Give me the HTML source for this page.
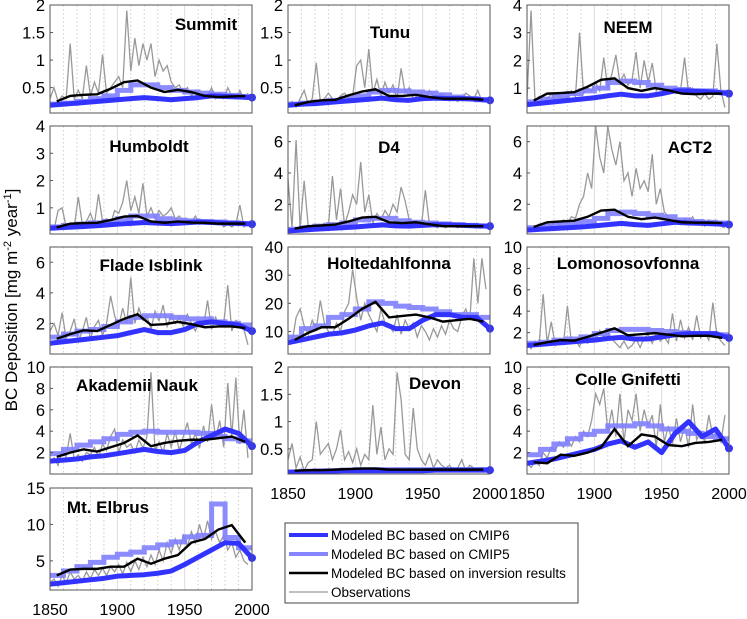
<!DOCTYPE html>
<html><head><meta charset="utf-8"><style>
body{margin:0;background:#fff;}
svg{display:block;font-family:"Liberation Sans",sans-serif;}
</style></head><body>
<svg id="chart" width="747" height="619" xmlns="http://www.w3.org/2000/svg">
<text x="0" y="0" transform="translate(17,300) rotate(-90)" text-anchor="middle" font-size="17">BC Deposition [mg m<tspan dy="-6" font-size="11">-2</tspan><tspan dy="6"> year</tspan><tspan dy="-6" font-size="11">-1</tspan><tspan dy="6">]</tspan></text>
<g>
<rect x="285" y="523" width="293" height="80" fill="#fff" stroke="#444" stroke-width="1"/>
<g><line x1="289" y1="535" x2="328" y2="535" stroke="#3333ff" stroke-width="4"/><text x="331" y="540" font-size="13.5">Modeled BC based on CMIP6</text></g>
<g><line x1="289" y1="554" x2="328" y2="554" stroke="#8585ff" stroke-width="4"/><text x="331" y="559" font-size="13.5">Modeled BC based on CMIP5</text></g>
<g><line x1="289" y1="573" x2="328" y2="573" stroke="#000" stroke-width="2.5"/><text x="331" y="578" font-size="13.5">Modeled BC based on inversion results</text></g>
<g><line x1="289" y1="592" x2="328" y2="592" stroke="#aaa" stroke-width="1.5"/><text x="331" y="597" font-size="13.5">Observations</text></g>
</g>
</svg>
<script>
const stationNames=["Summit","Tunu","NEEM","Humboldt","D4","ACT2","Flade Isblink","Holtedahlfonna","Lomonosovfonna","Akademii Nauk","Devon","Colle Gnifetti","Mt. Elbrus"];
const yMins=[0.04,0.04,0.1,0.04,0.1,0.1,0,2,0,0,0.04,0,1];
const yMaxs=[2,2,4,4,7,7,7,40,10,10,2,10,15];
const yTicks=[[0.5,1,1.5,2],[0.5,1,1.5,2],[1,2,3,4],[1,2,3,4],[2,4,6],[2,4,6],[2,4,6],[10,20,30,40],[2,4,6,8,10],[2,4,6,8,10],[0.5,1,1.5,2],[2,4,6,8,10],[5,10,15]];
const xTickLabels=[1850,1900,1950,2000];
const obsYears=Array.from({length:50},(_,i)=>1850+3*i);
const c6Years=[1850,1860,1870,1880,1890,1900,1910,1920,1930,1940,1950,1960,1970,1980,1990,2000];
const invYears=[1855,1865,1875,1885,1895,1905,1915,1925,1935,1945,1955,1965,1975,1985,1995];
const obsSummit=[0.3,0.5,0.25,0.35,0.3,1.3,0.3,0.45,0.3,0.9,0.35,0.6,0.4,1.1,0.4,0.5,0.6,0.7,0.5,1.9,0.8,1.4,0.9,1.3,1.0,1.3,0.7,1.0,0.8,0.9,0.6,0.5,0.55,0.4,0.5,0.35,0.45,0.3,0.4,0.35,0.5,0.3,0.4,0.3,0.5,0.35,0.3,0.45,0.3,0.4];
const obsTunu=[0.2,0.25,0.15,0.3,0.45,0.2,0.3,0.95,0.25,0.3,0.4,0.3,0.25,0.35,0.4,0.3,0.35,0.9,1.0,0.5,1.2,0.4,0.65,0.35,0.6,0.4,0.55,0.3,0.85,0.4,0.5,0.3,0.35,0.4,0.3,0.45,0.35,0.3,0.4,0.3,0.35,0.3,0.25,0.3,0.4,0.35,0.3,0.45,0.25,0.3];
const obsNEEM=[0.6,3.8,0.5,0.7,0.5,0.6,0.8,0.5,0.7,0.6,0.7,0.9,0.7,3.0,0.8,1.0,0.9,1.2,0.9,2.1,1.0,1.5,2.2,1.2,1.5,1.1,1.3,2.3,1.0,2.0,1.2,1.9,0.9,1.1,0.8,1.0,0.9,0.8,0.9,2.1,0.8,1.0,0.7,0.6,0.8,0.6,0.7,2.6,0.9,0.3];
const obsHumboldt=[0.3,0.2,0.9,1.0,0.3,0.4,0.3,1.4,0.4,0.5,0.8,0.4,1.5,0.5,0.6,0.4,0.9,0.8,1.2,2.0,0.9,1.4,0.8,1.9,0.7,1.0,0.6,0.9,0.7,0.8,1.0,0.6,0.7,0.5,0.6,0.5,0.7,0.4,0.5,0.4,0.5,0.4,0.5,0.3,0.4,0.3,0.4,1.1,0.3,0.4];
const obsD4=[3.6,0.5,6.1,0.5,3.5,0.6,0.5,0.7,0.6,0.8,0.6,3.8,1.0,3.0,0.7,1.5,2.6,2.0,4.7,1.5,2.6,0.8,1.4,1.0,1.6,1.2,2.0,1.5,3.1,2.2,1.0,0.7,0.9,0.6,2.9,0.7,0.6,0.5,0.8,0.5,0.7,0.6,0.5,0.7,0.6,0.5,0.6,0.7,0.5,0.6];
const obsACT2=[0.5,0.6,0.5,0.7,0.6,0.8,0.6,0.9,0.7,1.0,0.8,1.2,1.1,2.0,2.5,4.0,3.0,7.0,5.0,4.0,7.0,5.5,4.5,6.0,3.5,4.0,2.5,4.3,3.0,3.5,2.8,5.2,2.0,3.0,1.5,1.2,0.8,1.0,0.7,1.1,0.8,1.2,0.7,0.9,0.6,1.0,0.7,0.8,0.6,0.5];
const obsFlade=[1.5,2.0,1.2,2.7,1.0,1.5,2.3,0.8,1.5,2.4,1.0,1.8,2.2,1.2,2.0,3.8,2.5,1.8,3.0,2.0,5.0,2.0,3.0,2.2,2.5,1.6,2.8,2.2,3.2,1.8,2.5,2.0,2.4,1.8,2.6,2.0,1.5,2.2,1.8,3.5,1.6,2.4,1.8,2.0,4.5,1.5,2.2,2.0,1.6,0.6];
const obsHolte=[7,6,15,18,12,9,14,11,21,13,10,9,13,10,17,20,32,22,14,20,16,13,10,18,13,12,10,16,9,14,11,13,8,12,10,7,11,8,12,9,14,11,10,15,18,14,36,20,36,25];
const obsLomo=[1.0,0.5,1.2,0.9,5.6,1.0,3.0,0.8,1.2,0.9,4.5,1.0,1.3,0.7,1.5,1.0,1.8,1.2,2.2,1.6,2.0,1.4,1.0,0.6,1.2,0.5,0.8,1.4,0.6,1.5,1.8,1.0,2.0,1.2,1.6,1.0,3.8,1.2,3.2,1.5,2.5,1.3,3.6,1.5,2.0,1.3,4.8,1.8,1.2,0.8];
const obsAkad=[1.0,1.5,0.8,2.2,1.6,3.8,1.4,1.8,1.2,2.0,1.8,2.5,1.6,2.8,2.2,3.5,4.2,2.0,3.2,2.5,2.8,2.0,3.2,2.4,3.5,9.5,2.2,3.0,2.0,3.8,2.5,4.0,2.2,3.5,4.8,2.8,3.8,2.4,4.5,3.0,6.5,3.2,5.0,2.5,8.5,3.5,9.0,2.8,6.0,1.5];
const obsDevon=[0.3,0.6,0.15,0.35,0.1,0.25,0.3,1.0,0.4,0.5,0.6,0.3,0.5,0.85,0.3,0.45,0.25,0.5,0.2,0.4,0.3,1.3,0.4,0.9,0.3,0.5,0.4,1.9,1.4,0.4,0.3,1.25,0.5,0.3,0.2,0.4,0.15,0.3,0.2,0.15,0.2,0.1,0.15,0.3,0.1,0.2,0.15,0.1,0.15,0.1];
const obsColle=[1.0,0.6,1.2,0.8,2.0,1.5,2.5,2.2,3.0,2.5,3.2,2.6,3.5,3.0,4.0,3.5,5.0,7.5,6.5,8.0,4.0,6.0,3.5,7.5,3.0,6.0,5.0,7.5,4.0,6.0,4.5,5.5,2.5,6.5,3.0,4.5,2.8,5.2,3.0,4.5,2.5,6.5,3.2,4.0,3.0,5.5,3.5,4.0,3.0,5.5];
const obsElbrus=[2,2.5,1.5,3,2,3.5,2.5,3,2.2,3.5,2.5,3.8,3,4,3,4.2,3.5,4.5,3.2,4.8,3.5,5,3.8,5.5,4.2,5.8,4.5,6.5,5,7.5,6,8,6.5,8.5,7,9,7.5,10,8,10.5,8,9,7.5,8.5,6.5,7.5,5.5,6.5,5,4.5];
const cmip6Summit=[0.18,0.2,0.22,0.24,0.26,0.28,0.3,0.32,0.3,0.28,0.3,0.32,0.35,0.34,0.33,0.32];
const cmip6Tunu=[0.18,0.2,0.21,0.23,0.25,0.27,0.29,0.31,0.28,0.27,0.3,0.31,0.3,0.3,0.29,0.27];
const cmip6NEEM=[0.4,0.45,0.5,0.55,0.6,0.65,0.72,0.78,0.72,0.72,0.8,0.9,0.9,0.88,0.85,0.8];
const cmip6Humboldt=[0.25,0.28,0.3,0.33,0.36,0.4,0.43,0.46,0.44,0.42,0.45,0.48,0.46,0.44,0.43,0.4];
const cmip6D4=[0.3,0.35,0.4,0.45,0.5,0.55,0.62,0.68,0.62,0.6,0.65,0.7,0.68,0.65,0.62,0.6];
const cmip6ACT2=[0.35,0.4,0.45,0.5,0.55,0.62,0.7,0.78,0.7,0.65,0.75,0.85,0.8,0.78,0.75,0.7];
const cmip6Flade=[0.7,0.8,0.9,1.0,1.1,1.2,1.4,1.6,1.4,1.4,1.6,2.0,2.1,2.0,1.9,1.5];
const cmip6Holte=[6,7,8,9,9.5,10.5,12,13,11,11,14,16,16,15,15,11];
const cmip6Lomo=[0.8,0.9,1.0,1.1,1.2,1.3,1.45,1.55,1.4,1.4,1.6,1.8,1.9,1.9,1.9,1.5];
const cmip6Akad=[1.2,1.3,1.4,1.6,1.7,1.9,2.1,2.3,2.1,2.0,2.2,3.0,3.6,4.2,3.8,2.6];
const cmip6Devon=[0.07,0.08,0.08,0.09,0.1,0.1,0.1,0.1,0.1,0.1,0.1,0.11,0.11,0.11,0.11,0.11];
const cmip6Colle=[1.0,1.2,1.4,1.7,2.0,2.3,2.8,3.1,2.5,3.0,2.0,3.8,4.9,3.5,4.2,2.4];
const cmip6Elbrus=[1.8,2.0,2.2,2.4,2.6,2.9,3.0,3.1,3.3,3.6,4.5,5.5,6.5,7.5,7.4,5.4];
const cmip5Summit=[0.2,0.22,0.25,0.3,0.35,0.45,0.55,0.55,0.5,0.45,0.42,0.4,0.38,0.36,0.34];
const cmip5Tunu=[0.2,0.22,0.24,0.27,0.3,0.35,0.42,0.45,0.44,0.42,0.4,0.37,0.33,0.3,0.28];
const cmip5NEEM=[0.5,0.6,0.7,0.8,0.9,1.0,1.2,1.25,1.2,1.1,1.0,0.95,0.9,0.9,0.85];
const cmip5Humboldt=[0.3,0.35,0.4,0.45,0.5,0.6,0.7,0.7,0.6,0.55,0.52,0.5,0.48,0.45,0.42];
const cmip5D4=[0.4,0.5,0.6,0.7,0.8,1.0,1.1,1.1,0.95,0.85,0.8,0.75,0.7,0.65,0.6];
const cmip5ACT2=[0.5,0.6,0.7,0.8,0.9,1.1,1.4,1.5,1.4,1.3,1.2,1.0,0.9,0.85,0.8];
const cmip5Flade=[1.1,1.3,1.5,1.6,1.8,2.1,2.4,2.5,2.5,2.4,2.3,2.3,2.1,2.0,1.9];
const cmip5Holte=[8,11,12,15,16,18,20.5,20,19,18.5,18,17,16,16,15];
const cmip5Lomo=[1.0,1.1,1.3,1.4,1.6,1.9,2.2,2.3,2.3,2.2,2.1,2.0,1.9,1.9,1.8];
const cmip5Akad=[1.9,2.3,2.7,3.0,3.3,3.7,3.9,4.0,3.9,3.9,3.9,3.8,3.5,3.3,3.1];
const cmip5Devon=[0.08,0.09,0.1,0.1,0.11,0.12,0.12,0.12,0.12,0.12,0.12,0.12,0.12,0.12,0.12];
const cmip5Colle=[1.8,2.3,2.8,3.3,3.7,4.0,4.5,4.5,4.7,4.5,4.2,4.0,3.8,3.5,3.3];
const cmip5Elbrus=[3.0,3.6,4.2,4.8,5.5,5.9,6.2,6.8,7.2,7.6,8.3,8.5,12.8,8.2,6.8];
const invSummit=[0.25,0.35,0.37,0.38,0.48,0.6,0.63,0.5,0.42,0.46,0.42,0.35,0.33,0.34,0.35];
const invTunu=[0.18,0.24,0.27,0.28,0.36,0.43,0.47,0.35,0.35,0.37,0.33,0.3,0.3,0.3,0.28];
const invNEEM=[0.55,0.8,0.82,0.85,1.05,1.3,1.35,1.0,0.9,1.0,0.92,0.8,0.78,0.8,0.8];
const invHumboldt=[0.28,0.42,0.44,0.45,0.55,0.68,0.7,0.5,0.45,0.5,0.46,0.45,0.42,0.42,0.42];
const invD4=[0.45,0.6,0.65,0.7,0.9,1.15,1.2,0.85,0.8,0.85,0.72,0.6,0.6,0.6,0.6];
const invACT2=[0.55,0.85,0.9,0.95,1.2,1.6,1.65,1.2,1.05,1.15,1.0,0.85,0.82,0.82,0.8];
const invFlade=[1.0,1.3,1.55,1.5,1.9,2.3,2.6,1.9,1.95,2.1,1.95,1.75,1.8,1.8,1.7];
const invHolte=[7,9.5,11.5,11.5,14.5,18,20.5,15,15.5,16,15,13.5,14,14.5,13.5];
const invLomo=[0.85,1.1,1.3,1.25,1.6,2.0,2.4,1.75,1.85,1.95,1.8,1.65,1.7,1.7,1.5];
const invAkad=[1.6,2.0,2.3,2.1,2.5,2.9,3.6,2.6,2.9,3.1,3.2,3.2,3.35,3.5,3.0];
const invDevon=[0.1,0.11,0.11,0.12,0.13,0.14,0.14,0.12,0.12,0.12,0.12,0.12,0.12,0.12,0.12];
const invColle=[1.1,1.0,1.8,1.7,2.0,2.5,4.2,2.6,3.7,3.5,2.7,2.6,2.9,3.0,3.2];
const invElbrus=[3.0,3.8,3.9,3.9,4.2,4.2,5.3,4.6,5.3,5.8,7.5,8.0,9.3,9.9,7.5];

const obsAll=[obsSummit,obsTunu,obsNEEM,obsHumboldt,obsD4,obsACT2,obsFlade,obsHolte,obsLomo,obsAkad,obsDevon,obsColle,obsElbrus];
const c6All=[cmip6Summit,cmip6Tunu,cmip6NEEM,cmip6Humboldt,cmip6D4,cmip6ACT2,cmip6Flade,cmip6Holte,cmip6Lomo,cmip6Akad,cmip6Devon,cmip6Colle,cmip6Elbrus];
const c5All=[cmip5Summit,cmip5Tunu,cmip5NEEM,cmip5Humboldt,cmip5D4,cmip5ACT2,cmip5Flade,cmip5Holte,cmip5Lomo,cmip5Akad,cmip5Devon,cmip5Colle,cmip5Elbrus];
const invAll=[invSummit,invTunu,invNEEM,invHumboldt,invD4,invACT2,invFlade,invHolte,invLomo,invAkad,invDevon,invColle,invElbrus];

const colL=[50,288,527], PW=202;
const rowT=[5,126,247,367,488], rowH=[108,108,107,107,102];
const titlePos=[[206,30],[390,38],[628,33],[149,152],[389,153],[690,153],[151,271],[389,269],[628,269],[137,391],[435,389],[628,385],[108,513]];
const showX=[10,11,12];
const svg=document.getElementById('chart');
const NS='http://www.w3.org/2000/svg';
function mk(t,a,p){const e=document.createElementNS(NS,t);for(const k in a)e.setAttribute(k,a[k]);p.appendChild(e);return e;}
stationNames.forEach((name,i)=>{
  const L=colL[i%3], r=Math.floor(i/3), T=rowT[r], H=rowH[r];
  const x=v=>L+(v-1850)/150*PW;
  const y=v=>T+H-(v-yMins[i])/(yMaxs[i]-yMins[i])*H;
  const g=mk('g',{},svg);
  
  
  const cp='clip'+i;
  const cl=mk('clipPath',{id:cp},g);mk('rect',{x:L,y:T,width:PW,height:H},cl);
  for(let yr=1860;yr<2000;yr+=10){
    const major=yr%50===0;
    const gl=mk('line',{x1:x(yr),x2:x(yr),y1:T,y2:T+H,stroke:major?'#ddd':'#ccc','stroke-width':1,'stroke-dasharray':major?'':'1.5,2.5'},g);
    
    
  }
  const d=mk('g',{'clip-path':'url(#'+cp+')'},g);
  const po=mk('polyline',{points:obsAll[i].map((v,k)=>x(obsYears[k])+','+y(v)).join(' '),fill:'none',stroke:'#999','stroke-width':1.3},d);
  
  
  let s=[];c5All[i].forEach((v,k)=>{s.push(x(1850+10*k)+','+y(v));s.push(x(1860+10*k)+','+y(v));});
  const p5=mk('polyline',{points:s.join(' '),fill:'none',stroke:'#7f7fff','stroke-width':5,'stroke-opacity':0.9},d);
  
  
  const p6=mk('polyline',{points:c6All[i].map((v,k)=>x(c6Years[k])+','+y(v)).join(' '),fill:'none',stroke:'#3333ff','stroke-width':5,'stroke-linejoin':'round'},d);
  
  
  const last=c6All[i][c6All[i].length-1];
  const dot=mk('circle',{cx:x(2000),cy:y(last),r:4,fill:'#3333ff'},g);
  
  
  const pi=mk('polyline',{points:invAll[i].map((v,k)=>x(invYears[k])+','+y(v)).join(' '),fill:'none',stroke:'#000','stroke-width':2.4},d);
  
  
  const fr=mk('rect',{x:L,y:T,width:PW,height:H,fill:'none',stroke:'#555','stroke-width':1},g);
  
  
  yTicks[i].forEach(t=>{
    const tl=mk('text',{x:L-5,y:y(t)+6,'text-anchor':'end','font-size':16.5},g);
    tl.textContent=t;
    
    
    mk('line',{x1:L,x2:L+3,y1:y(t),y2:y(t),stroke:'#555'},g);
  });
  if(showX.includes(i)){
    xTickLabels.forEach(t=>{
      const xl=mk('text',{x:x(t),y:T+H+25,'text-anchor':'middle','font-size':16},g);
      xl.textContent=t;
      
      
    });
  }
  const tt=mk('text',{x:titlePos[i][0],y:titlePos[i][1],'text-anchor':'middle','font-size':17,'font-weight':'bold'},g);
  tt.textContent=name;
  
  
});
</script>
</body></html>
